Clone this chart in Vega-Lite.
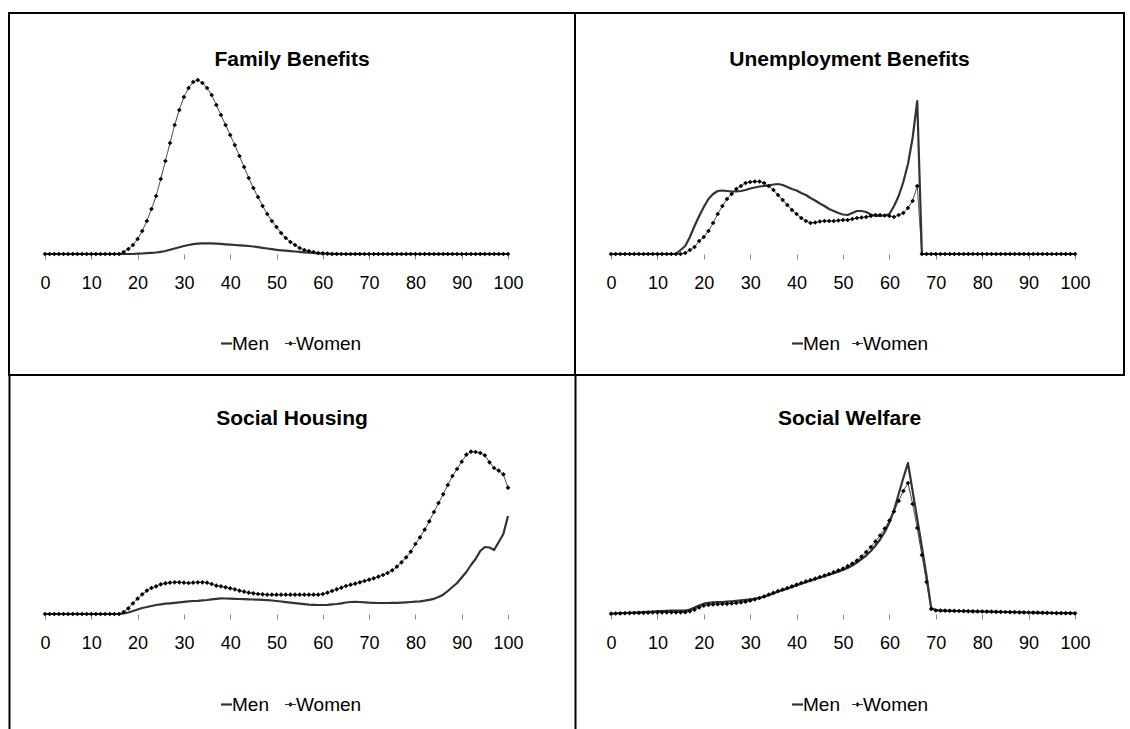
{
  "$schema": "https://vega.github.io/schema/vega-lite/v6.json",
  "padding": {"left": 8, "top": 12, "right": 0, "bottom": 0},
  "background": "white",
  "config": {
    "view": {"stroke": "#000", "strokeWidth": 2},
    "font": "Liberation Sans",
    "axisX": {"domain": false, "grid": false, "tickSize": 5, "tickColor": "#888", "tickWidth": 1, "labelFontSize": 18, "labelFont": "Liberation Sans", "labelColor": "#000", "labelPadding": 15, "labelOverlap": false, "labelFlush": false},
    "title": {"fontSize": 21, "fontWeight": "bold", "color": "#000", "anchor": "middle", "frame": "group", "baseline": "middle", "font": "Liberation Sans"},
    "legend": {"labelFontSize": 19, "labelFont": "Liberation Sans", "labelColor": "#000", "labelOffset": -4, "symbolSize": 121, "padding": 0, "direction": "horizontal", "orient": "none", "title": null}
  },
  "datasets": {
    "fb": [
      {"a":0,"Men":0,"Women":0},{"a":1,"Men":0,"Women":0},{"a":2,"Men":0,"Women":0},{"a":3,"Men":0,"Women":0},{"a":4,"Men":0,"Women":0},{"a":5,"Men":0,"Women":0},{"a":6,"Men":0,"Women":0},{"a":7,"Men":0,"Women":0},{"a":8,"Men":0,"Women":0},{"a":9,"Men":0,"Women":0},
      {"a":10,"Men":0,"Women":0},{"a":11,"Men":0,"Women":0},{"a":12,"Men":0,"Women":0},{"a":13,"Men":0,"Women":0},{"a":14,"Men":0,"Women":0},{"a":15,"Men":0,"Women":0},{"a":16,"Men":0,"Women":0},{"a":17,"Men":0,"Women":2},{"a":18,"Men":0,"Women":5},{"a":19,"Men":0,"Women":9},
      {"a":20,"Men":0.3,"Women":15},{"a":21,"Men":0.5,"Women":23},{"a":22,"Men":0.8,"Women":33},{"a":23,"Men":1.1,"Women":45},{"a":24,"Men":1.5,"Women":58},{"a":25,"Men":2.2,"Women":75},{"a":26,"Men":3,"Women":93},{"a":27,"Men":4.2,"Women":111},{"a":28,"Men":5.5,"Women":129},{"a":29,"Men":6.8,"Women":144},
      {"a":30,"Men":8,"Women":157},{"a":31,"Men":9,"Women":166},{"a":32,"Men":9.8,"Women":172},{"a":33,"Men":10.3,"Women":174},{"a":34,"Men":10.6,"Women":171},{"a":35,"Men":10.7,"Women":166},{"a":36,"Men":10.6,"Women":159},{"a":37,"Men":10.4,"Women":149},{"a":38,"Men":10.1,"Women":139},{"a":39,"Men":9.7,"Women":129},
      {"a":40,"Men":9.3,"Women":119},{"a":41,"Men":9,"Women":109},{"a":42,"Men":8.7,"Women":98},{"a":43,"Men":8.4,"Women":87},{"a":44,"Men":8,"Women":76},{"a":45,"Men":7.5,"Women":66},{"a":46,"Men":6.9,"Women":57},{"a":47,"Men":6.2,"Women":48},{"a":48,"Men":5.5,"Women":40},{"a":49,"Men":4.8,"Women":33},
      {"a":50,"Men":4.2,"Women":27},{"a":51,"Men":3.7,"Women":21},{"a":52,"Men":3.3,"Women":16},{"a":53,"Men":2.9,"Women":12},{"a":54,"Men":2.5,"Women":9},{"a":55,"Men":2.1,"Women":6},{"a":56,"Men":1.7,"Women":4},{"a":57,"Men":1.3,"Women":3},{"a":58,"Men":1,"Women":2},{"a":59,"Men":0.7,"Women":1},
      {"a":60,"Men":0.5,"Women":0.6},{"a":61,"Men":0.3,"Women":0.3},{"a":62,"Men":0.2,"Women":0},{"a":63,"Men":0.1,"Women":0},{"a":64,"Men":0,"Women":0},{"a":65,"Men":0,"Women":0},{"a":66,"Men":0,"Women":0},{"a":67,"Men":0,"Women":0},{"a":68,"Men":0,"Women":0},{"a":69,"Men":0,"Women":0},
      {"a":70,"Men":0,"Women":0},{"a":71,"Men":0,"Women":0},{"a":72,"Men":0,"Women":0},{"a":73,"Men":0,"Women":0},{"a":74,"Men":0,"Women":0},{"a":75,"Men":0,"Women":0},{"a":76,"Men":0,"Women":0},{"a":77,"Men":0,"Women":0},{"a":78,"Men":0,"Women":0},{"a":79,"Men":0,"Women":0},
      {"a":80,"Men":0,"Women":0},{"a":81,"Men":0,"Women":0},{"a":82,"Men":0,"Women":0},{"a":83,"Men":0,"Women":0},{"a":84,"Men":0,"Women":0},{"a":85,"Men":0,"Women":0},{"a":86,"Men":0,"Women":0},{"a":87,"Men":0,"Women":0},{"a":88,"Men":0,"Women":0},{"a":89,"Men":0,"Women":0},
      {"a":90,"Men":0,"Women":0},{"a":91,"Men":0,"Women":0},{"a":92,"Men":0,"Women":0},{"a":93,"Men":0,"Women":0},{"a":94,"Men":0,"Women":0},{"a":95,"Men":0,"Women":0},{"a":96,"Men":0,"Women":0},{"a":97,"Men":0,"Women":0},{"a":98,"Men":0,"Women":0},{"a":99,"Men":0,"Women":0},
      {"a":100,"Men":0,"Women":0}
    ],
    "ub": [
      {"a":0,"Men":0,"Women":0},{"a":1,"Men":0,"Women":0},{"a":2,"Men":0,"Women":0},{"a":3,"Men":0,"Women":0},{"a":4,"Men":0,"Women":0},{"a":5,"Men":0,"Women":0},{"a":6,"Men":0,"Women":0},{"a":7,"Men":0,"Women":0},{"a":8,"Men":0,"Women":0},{"a":9,"Men":0,"Women":0},
      {"a":10,"Men":0,"Women":0},{"a":11,"Men":0,"Women":0},{"a":12,"Men":0,"Women":0},{"a":13,"Men":0,"Women":0},{"a":14,"Men":0,"Women":0},{"a":15,"Men":4,"Women":0},{"a":16,"Men":8,"Women":1},{"a":17,"Men":17,"Women":4},{"a":18,"Men":28,"Women":7},{"a":19,"Men":38,"Women":13},
      {"a":20,"Men":47,"Women":17},{"a":21,"Men":55,"Women":23},{"a":22,"Men":60,"Women":31},{"a":23,"Men":63,"Women":40},{"a":24,"Men":63.5,"Women":48},{"a":25,"Men":63,"Women":55},{"a":26,"Men":62.5,"Women":60},{"a":27,"Men":62.5,"Women":65},{"a":28,"Men":63,"Women":68},{"a":29,"Men":64,"Women":71},
      {"a":30,"Men":65.5,"Women":72},{"a":31,"Men":66.5,"Women":72.5},{"a":32,"Men":67.5,"Women":72.5},{"a":33,"Men":68,"Women":71},{"a":34,"Men":68.5,"Women":68},{"a":35,"Men":69.5,"Women":64},{"a":36,"Men":70,"Women":59},{"a":37,"Men":69,"Women":54},{"a":38,"Men":67,"Women":49},{"a":39,"Men":65,"Women":44},
      {"a":40,"Men":63.5,"Women":40},{"a":41,"Men":61,"Women":36},{"a":42,"Men":59,"Women":33},{"a":43,"Men":56,"Women":31},{"a":44,"Men":53.5,"Women":31.5},{"a":45,"Men":50.5,"Women":32.5},{"a":46,"Men":48,"Women":33},{"a":47,"Men":45,"Women":33},{"a":48,"Men":43,"Women":33},{"a":49,"Men":41,"Women":33.5},
      {"a":50,"Men":39.5,"Women":34},{"a":51,"Men":39,"Women":34},{"a":52,"Men":41,"Women":35},{"a":53,"Men":43,"Women":36},{"a":54,"Men":43,"Women":36.5},{"a":55,"Men":42,"Women":37},{"a":56,"Men":39.5,"Women":38},{"a":57,"Men":38,"Women":39},{"a":58,"Men":38,"Women":39},{"a":59,"Men":38.5,"Women":38.5},
      {"a":60,"Men":40,"Women":38},{"a":61,"Men":48,"Women":37},{"a":62,"Men":58,"Women":39},{"a":63,"Men":72,"Women":41},{"a":64,"Men":90,"Women":46},{"a":65,"Men":116,"Women":53},{"a":66,"Men":153,"Women":68},{"a":67,"Men":0,"Women":0},{"a":68,"Men":0,"Women":0},{"a":69,"Men":0,"Women":0},
      {"a":70,"Men":0,"Women":0},{"a":71,"Men":0,"Women":0},{"a":72,"Men":0,"Women":0},{"a":73,"Men":0,"Women":0},{"a":74,"Men":0,"Women":0},{"a":75,"Men":0,"Women":0},{"a":76,"Men":0,"Women":0},{"a":77,"Men":0,"Women":0},{"a":78,"Men":0,"Women":0},{"a":79,"Men":0,"Women":0},
      {"a":80,"Men":0,"Women":0},{"a":81,"Men":0,"Women":0},{"a":82,"Men":0,"Women":0},{"a":83,"Men":0,"Women":0},{"a":84,"Men":0,"Women":0},{"a":85,"Men":0,"Women":0},{"a":86,"Men":0,"Women":0},{"a":87,"Men":0,"Women":0},{"a":88,"Men":0,"Women":0},{"a":89,"Men":0,"Women":0},
      {"a":90,"Men":0,"Women":0},{"a":91,"Men":0,"Women":0},{"a":92,"Men":0,"Women":0},{"a":93,"Men":0,"Women":0},{"a":94,"Men":0,"Women":0},{"a":95,"Men":0,"Women":0},{"a":96,"Men":0,"Women":0},{"a":97,"Men":0,"Women":0},{"a":98,"Men":0,"Women":0},{"a":99,"Men":0,"Women":0},
      {"a":100,"Men":0,"Women":0}
    ],
    "sh": [
      {"a":0,"Men":0,"Women":0},{"a":1,"Men":0,"Women":0},{"a":2,"Men":0,"Women":0},{"a":3,"Men":0,"Women":0},{"a":4,"Men":0,"Women":0},{"a":5,"Men":0,"Women":0},{"a":6,"Men":0,"Women":0},{"a":7,"Men":0,"Women":0},{"a":8,"Men":0,"Women":0},{"a":9,"Men":0,"Women":0},
      {"a":10,"Men":0,"Women":0},{"a":11,"Men":0,"Women":0},{"a":12,"Men":0,"Women":0},{"a":13,"Men":0,"Women":0},{"a":14,"Men":0,"Women":0},{"a":15,"Men":0,"Women":0},{"a":16,"Men":0,"Women":0},{"a":17,"Men":0.5,"Women":2},{"a":18,"Men":1.5,"Women":5.7},{"a":19,"Men":3,"Women":10.7},
      {"a":20,"Men":4.5,"Women":15.3},{"a":21,"Men":6,"Women":19.7},{"a":22,"Men":7,"Women":23.3},{"a":23,"Men":8,"Women":26},{"a":24,"Men":9,"Women":27.7},{"a":25,"Men":9.7,"Women":29.7},{"a":26,"Men":10.3,"Women":30.7},{"a":27,"Men":10.7,"Women":31.3},{"a":28,"Men":11.2,"Women":31.7},{"a":29,"Men":11.7,"Women":31.7},
      {"a":30,"Men":12.2,"Women":31.3},{"a":31,"Men":12.6,"Women":31},{"a":32,"Men":13,"Women":31.3},{"a":33,"Men":13.2,"Women":31.7},{"a":34,"Men":13.6,"Women":31.7},{"a":35,"Men":14,"Women":31.3},{"a":36,"Men":14.6,"Women":30},{"a":37,"Men":15.2,"Women":28.3},{"a":38,"Men":15.7,"Women":27.7},{"a":39,"Men":15.5,"Women":26.7},
      {"a":40,"Men":15.3,"Women":25.7},{"a":41,"Men":15.2,"Women":24.7},{"a":42,"Men":15,"Women":23.3},{"a":43,"Men":14.9,"Women":22.3},{"a":44,"Men":14.7,"Women":21.3},{"a":45,"Men":14.5,"Women":20.7},{"a":46,"Men":14.3,"Women":20},{"a":47,"Men":14.1,"Women":19.7},{"a":48,"Men":13.8,"Women":19.3},{"a":49,"Men":13.5,"Women":19.3},
      {"a":50,"Men":13,"Women":19.3},{"a":51,"Men":12.5,"Women":19.3},{"a":52,"Men":11.9,"Women":19.3},{"a":53,"Men":11.3,"Women":19.3},{"a":54,"Men":10.8,"Women":19.3},{"a":55,"Men":10.3,"Women":19.3},{"a":56,"Men":9.8,"Women":19.3},{"a":57,"Men":9.4,"Women":19.3},{"a":58,"Men":9.2,"Women":19.3},{"a":59,"Men":9,"Women":19.3},
      {"a":60,"Men":9,"Women":20},{"a":61,"Men":9.2,"Women":21.3},{"a":62,"Men":9.6,"Women":23},{"a":63,"Men":10,"Women":24.7},{"a":64,"Men":10.6,"Women":26.3},{"a":65,"Men":11.5,"Women":28},{"a":66,"Men":12,"Women":29.3},{"a":67,"Men":12.1,"Women":30.3},{"a":68,"Men":12,"Women":31.7},{"a":69,"Men":11.7,"Women":33},
      {"a":70,"Men":11.3,"Women":34.3},{"a":71,"Men":11.1,"Women":35.7},{"a":72,"Men":11,"Women":37.3},{"a":73,"Men":11,"Women":39},{"a":74,"Men":11,"Women":41},{"a":75,"Men":11.1,"Women":43.7},{"a":76,"Men":11.2,"Women":47.3},{"a":77,"Men":11.4,"Women":51.7},{"a":78,"Men":11.7,"Women":56.7},{"a":79,"Men":12,"Women":62.3},
      {"a":80,"Men":12.3,"Women":70},{"a":81,"Men":12.7,"Women":76.7},{"a":82,"Men":13.3,"Women":84.3},{"a":83,"Men":14.2,"Women":92.7},{"a":84,"Men":15.2,"Women":102},{"a":85,"Men":17,"Women":111},{"a":86,"Men":19.3,"Women":119.7},{"a":87,"Men":23,"Women":129},{"a":88,"Men":27,"Women":138},{"a":89,"Men":31,"Women":145},
      {"a":90,"Men":36.5,"Women":152.3},{"a":91,"Men":42,"Women":159.3},{"a":92,"Men":49,"Women":162.3},{"a":93,"Men":55,"Women":162},{"a":94,"Men":63,"Women":161},{"a":95,"Men":67,"Women":158.7},{"a":96,"Men":66.5,"Women":151.7},{"a":97,"Men":64,"Women":146},{"a":98,"Men":72,"Women":143.3},{"a":99,"Men":80,"Women":139.7},
      {"a":100,"Men":98,"Women":126.3}
    ],
    "sw": [
      {"a":0,"Men":0.3,"Women":0.3},{"a":1,"Men":0.5,"Women":0.5},{"a":2,"Men":0.8,"Women":0.6},{"a":3,"Men":1,"Women":0.8},{"a":4,"Men":1.2,"Women":0.9},{"a":5,"Men":1.4,"Women":1},{"a":6,"Men":1.6,"Women":1.1},{"a":7,"Men":1.9,"Women":1.2},{"a":8,"Men":2.2,"Women":1.3},{"a":9,"Men":2.5,"Women":1.5},
      {"a":10,"Men":2.8,"Women":1.6},{"a":11,"Men":3,"Women":1.7},{"a":12,"Men":3.2,"Women":1.7},{"a":13,"Men":3.3,"Women":1.7},{"a":14,"Men":3.3,"Women":1.7},{"a":15,"Men":3.3,"Women":1.7},{"a":16,"Men":3.4,"Women":1.8},{"a":17,"Men":4.5,"Women":2.7},{"a":18,"Men":6.5,"Women":4.3},{"a":19,"Men":8.5,"Women":6.5},
      {"a":20,"Men":10.3,"Women":8.3},{"a":21,"Men":11.2,"Women":9.2},{"a":22,"Men":11.6,"Women":9.6},{"a":23,"Men":11.8,"Women":9.8},{"a":24,"Men":12,"Women":10},{"a":25,"Men":12.3,"Women":10.2},{"a":26,"Men":12.7,"Women":10.6},{"a":27,"Men":13.2,"Women":11},{"a":28,"Men":13.6,"Women":11.6},{"a":29,"Men":14.1,"Women":12.3},
      {"a":30,"Men":14.6,"Women":13.3},{"a":31,"Men":15.2,"Women":14.6},{"a":32,"Men":16.1,"Women":16},{"a":33,"Men":17.3,"Women":17.6},{"a":34,"Men":18.8,"Women":19.5},{"a":35,"Men":20.5,"Women":21.2},{"a":36,"Men":22.2,"Women":23},{"a":37,"Men":23.8,"Women":24.5},{"a":38,"Men":25.4,"Women":26},{"a":39,"Men":27,"Women":27.7},
      {"a":40,"Men":28.6,"Women":29.3},{"a":41,"Men":30.2,"Women":31},{"a":42,"Men":31.8,"Women":32.6},{"a":43,"Men":33.3,"Women":34},{"a":44,"Men":34.8,"Women":35.4},{"a":45,"Men":36.3,"Women":37},{"a":46,"Men":37.8,"Women":38.4},{"a":47,"Men":39.3,"Women":40},{"a":48,"Men":40.8,"Women":41.8},{"a":49,"Men":42.4,"Women":43.6},
      {"a":50,"Men":44,"Women":45.4},{"a":51,"Men":46,"Women":47.8},{"a":52,"Men":48.5,"Women":50.5},{"a":53,"Men":51.5,"Women":53.5},{"a":54,"Men":55,"Women":57.5},{"a":55,"Men":58.5,"Women":62},{"a":56,"Men":63,"Women":67},{"a":57,"Men":68.5,"Women":72.5},{"a":58,"Men":74.5,"Women":78.5},{"a":59,"Men":82,"Women":85.5},
      {"a":60,"Men":91.5,"Women":93.5},{"a":61,"Men":104,"Women":102.5},{"a":62,"Men":120,"Women":113},{"a":63,"Men":136,"Women":123},{"a":64,"Men":151,"Women":131},{"a":65,"Men":123,"Women":110},{"a":66,"Men":95,"Women":86},{"a":67,"Men":67,"Women":59},{"a":68,"Men":38,"Women":32},{"a":69,"Men":6,"Women":5},
      {"a":70,"Men":4,"Women":3.5},{"a":71,"Men":3.4,"Women":3.4},{"a":72,"Men":3.3,"Women":3.3},{"a":73,"Men":3.2,"Women":3.2},{"a":74,"Men":3.1,"Women":3.1},{"a":75,"Men":3,"Women":3},{"a":76,"Men":2.9,"Women":2.9},{"a":77,"Men":2.8,"Women":2.8},{"a":78,"Men":2.7,"Women":2.7},{"a":79,"Men":2.6,"Women":2.6},
      {"a":80,"Men":2.5,"Women":2.5},{"a":81,"Men":2.4,"Women":2.4},{"a":82,"Men":2.3,"Women":2.3},{"a":83,"Men":2.2,"Women":2.2},{"a":84,"Men":2.1,"Women":2.1},{"a":85,"Men":2,"Women":2},{"a":86,"Men":1.9,"Women":1.9},{"a":87,"Men":1.8,"Women":1.8},{"a":88,"Men":1.7,"Women":1.7},{"a":89,"Men":1.6,"Women":1.6},
      {"a":90,"Men":1.5,"Women":1.5},{"a":91,"Men":1.4,"Women":1.4},{"a":92,"Men":1.3,"Women":1.3},{"a":93,"Men":1.2,"Women":1.2},{"a":94,"Men":1.1,"Women":1.1},{"a":95,"Men":1,"Women":1},{"a":96,"Men":0.9,"Women":0.9},{"a":97,"Men":0.9,"Women":0.9},{"a":98,"Men":0.8,"Women":0.8},{"a":99,"Men":0.8,"Women":0.8},
      {"a":100,"Men":0.7,"Women":0.7}
    ]
  },
  "columns": 2,
  "spacing": 0,
  "bounds": "flush",
  "resolve": {"scale": {"color": "independent", "strokeDash": "independent"}, "legend": {"color": "independent", "strokeDash": "independent"}},
  "concat": [
    {
      "width": 566, "height": 362,
      "data": {"name": "fb"},
      "title": {"text": "Family Benefits", "offset": -57},
      "encoding": {
        "x": {"field": "a", "type": "quantitative", "scale": {"domain": [-7.775, 114.47], "nice": false, "zero": false}, "axis": {"offset": -121, "title": null, "values": [0,10,20,30,40,50,60,70,80,90,100]}},
        "y": {"field": "v", "type": "quantitative", "scale": {"domain": [-121, 241], "nice": false, "zero": false}, "axis": null}
      },
      "layer": [
        {"data": {"values": [{}]}, "mark": {"type": "rule", "color": "#888", "strokeWidth": 1}, "encoding": {"x": {"datum": 0}, "x2": {"datum": 100}, "y": {"datum": 0}}},
        {"transform": [{"fold": ["Men", "Women"], "as": ["s", "v"]}, {"filter": "datum.s === 'Men'"}], "mark": {"type": "line", "strokeWidth": 2.2, "strokeJoin": "round"},
         "encoding": {"color": {"field": "s", "type": "nominal", "scale": {"domain": ["Men"], "range": ["#333333"]}, "legend": {"legendX": 208, "legendY": 321, "symbolStrokeWidth": 2.2}}}},
        {"transform": [{"fold": ["Men", "Women"], "as": ["s", "v"]}, {"filter": "datum.s === 'Women'"}], "mark": {"type": "line", "strokeWidth": 1, "color": "#333333"},
         "encoding": {"strokeDash": {"field": "s", "type": "nominal", "scale": {"domain": ["Women"], "range": [[1, 0]]}, "legend": {"legendX": 272, "legendY": 321, "symbolType": "M-1,0H1M0,-0.38L0.38,0L0,0.38L-0.38,0Z", "symbolStrokeWidth": 1, "symbolStrokeColor": "#333333", "symbolFillColor": "#000"}}}},
        {"transform": [{"fold": ["Men", "Women"], "as": ["s", "v"]}, {"filter": "datum.s === 'Women'"}], "mark": {"type": "point", "shape": "diamond", "filled": true, "size": 22, "color": "#000", "opacity": 1}}
      ]
    },
    {
      "width": 549, "height": 362,
      "data": {"name": "ub"},
      "title": {"text": "Unemployment Benefits", "offset": -57},
      "encoding": {
        "x": {"field": "a", "type": "quantitative", "scale": {"domain": [-7.759, 110.56], "nice": false, "zero": false}, "axis": {"offset": -121, "title": null, "values": [0,10,20,30,40,50,60,70,80,90,100]}},
        "y": {"field": "v", "type": "quantitative", "scale": {"domain": [-121, 241], "nice": false, "zero": false}, "axis": null}
      },
      "layer": [
        {"data": {"values": [{}]}, "mark": {"type": "rule", "color": "#888", "strokeWidth": 1}, "encoding": {"x": {"datum": 0}, "x2": {"datum": 100}, "y": {"datum": 0}}},
        {"transform": [{"fold": ["Men", "Women"], "as": ["s", "v"]}, {"filter": "datum.s === 'Men'"}], "mark": {"type": "line", "strokeWidth": 2.2, "strokeJoin": "round"},
         "encoding": {"color": {"field": "s", "type": "nominal", "scale": {"domain": ["Men"], "range": ["#333333"]}, "legend": {"legendX": 213, "legendY": 321, "symbolStrokeWidth": 2.2}}}},
        {"transform": [{"fold": ["Men", "Women"], "as": ["s", "v"]}, {"filter": "datum.s === 'Women'"}], "mark": {"type": "line", "strokeWidth": 1, "color": "#333333"},
         "encoding": {"strokeDash": {"field": "s", "type": "nominal", "scale": {"domain": ["Women"], "range": [[1, 0]]}, "legend": {"legendX": 273, "legendY": 321, "symbolType": "M-1,0H1M0,-0.38L0.38,0L0,0.38L-0.38,0Z", "symbolStrokeWidth": 1, "symbolStrokeColor": "#333333", "symbolFillColor": "#000"}}}},
        {"transform": [{"fold": ["Men", "Women"], "as": ["s", "v"]}, {"filter": "datum.s === 'Women'"}], "mark": {"type": "point", "shape": "diamond", "filled": true, "size": 22, "color": "#000", "opacity": 1}}
      ]
    },
    {
      "width": 566, "height": 355,
      "view": {"stroke": null},
      "data": {"name": "sh"},
      "title": {"text": "Social Housing", "offset": -54},
      "encoding": {
        "x": {"field": "a", "type": "quantitative", "scale": {"domain": [-7.775, 114.47], "nice": false, "zero": false}, "axis": {"offset": -116, "title": null, "values": [0,10,20,30,40,50,60,70,80,90,100]}},
        "y": {"field": "v", "type": "quantitative", "scale": {"domain": [-116, 239], "nice": false, "zero": false}, "axis": {"title": null, "labels": false, "ticks": false, "grid": false, "domain": true, "domainColor": "#000", "domainWidth": 2}}
      },
      "layer": [
        {"data": {"values": [{}]}, "mark": {"type": "rule", "color": "#888", "strokeWidth": 1}, "encoding": {"x": {"datum": 0}, "x2": {"datum": 100}, "y": {"datum": 0}}},
        {"transform": [{"fold": ["Men", "Women"], "as": ["s", "v"]}, {"filter": "datum.s === 'Men'"}], "mark": {"type": "line", "strokeWidth": 2.2, "strokeJoin": "round"},
         "encoding": {"color": {"field": "s", "type": "nominal", "scale": {"domain": ["Men"], "range": ["#333333"]}, "legend": {"legendX": 208, "legendY": 320, "symbolStrokeWidth": 2.2}}}},
        {"transform": [{"fold": ["Men", "Women"], "as": ["s", "v"]}, {"filter": "datum.s === 'Women'"}], "mark": {"type": "line", "strokeWidth": 1, "color": "#333333"},
         "encoding": {"strokeDash": {"field": "s", "type": "nominal", "scale": {"domain": ["Women"], "range": [[1, 0]]}, "legend": {"legendX": 272, "legendY": 320, "symbolType": "M-1,0H1M0,-0.38L0.38,0L0,0.38L-0.38,0Z", "symbolStrokeWidth": 1, "symbolStrokeColor": "#333333", "symbolFillColor": "#000"}}}},
        {"transform": [{"fold": ["Men", "Women"], "as": ["s", "v"]}, {"filter": "datum.s === 'Women'"}], "mark": {"type": "point", "shape": "diamond", "filled": true, "size": 22, "color": "#000", "opacity": 1}}
      ]
    },
    {
      "width": 549, "height": 355,
      "view": {"stroke": null},
      "data": {"name": "sw"},
      "title": {"text": "Social Welfare", "offset": -54},
      "encoding": {
        "x": {"field": "a", "type": "quantitative", "scale": {"domain": [-7.759, 110.56], "nice": false, "zero": false}, "axis": {"offset": -116, "title": null, "values": [0,10,20,30,40,50,60,70,80,90,100]}},
        "y": {"field": "v", "type": "quantitative", "scale": {"domain": [-116, 239], "nice": false, "zero": false}, "axis": {"title": null, "labels": false, "ticks": false, "grid": false, "domain": true, "domainColor": "#000", "domainWidth": 2}}
      },
      "layer": [
        {"data": {"values": [{}]}, "mark": {"type": "rule", "color": "#888", "strokeWidth": 1}, "encoding": {"x": {"datum": 0}, "x2": {"datum": 100}, "y": {"datum": 0}}},
        {"transform": [{"fold": ["Men", "Women"], "as": ["s", "v"]}, {"filter": "datum.s === 'Men'"}], "mark": {"type": "line", "strokeWidth": 2.2, "strokeJoin": "round"},
         "encoding": {"color": {"field": "s", "type": "nominal", "scale": {"domain": ["Men"], "range": ["#333333"]}, "legend": {"legendX": 213, "legendY": 320, "symbolStrokeWidth": 2.2}}}},
        {"transform": [{"fold": ["Men", "Women"], "as": ["s", "v"]}, {"filter": "datum.s === 'Women'"}], "mark": {"type": "line", "strokeWidth": 1, "color": "#333333"},
         "encoding": {"strokeDash": {"field": "s", "type": "nominal", "scale": {"domain": ["Women"], "range": [[1, 0]]}, "legend": {"legendX": 273, "legendY": 320, "symbolType": "M-1,0H1M0,-0.38L0.38,0L0,0.38L-0.38,0Z", "symbolStrokeWidth": 1, "symbolStrokeColor": "#333333", "symbolFillColor": "#000"}}}},
        {"transform": [{"fold": ["Men", "Women"], "as": ["s", "v"]}, {"filter": "datum.s === 'Women'"}], "mark": {"type": "point", "shape": "diamond", "filled": true, "size": 22, "color": "#000", "opacity": 1}}
      ]
    }
  ]
}
